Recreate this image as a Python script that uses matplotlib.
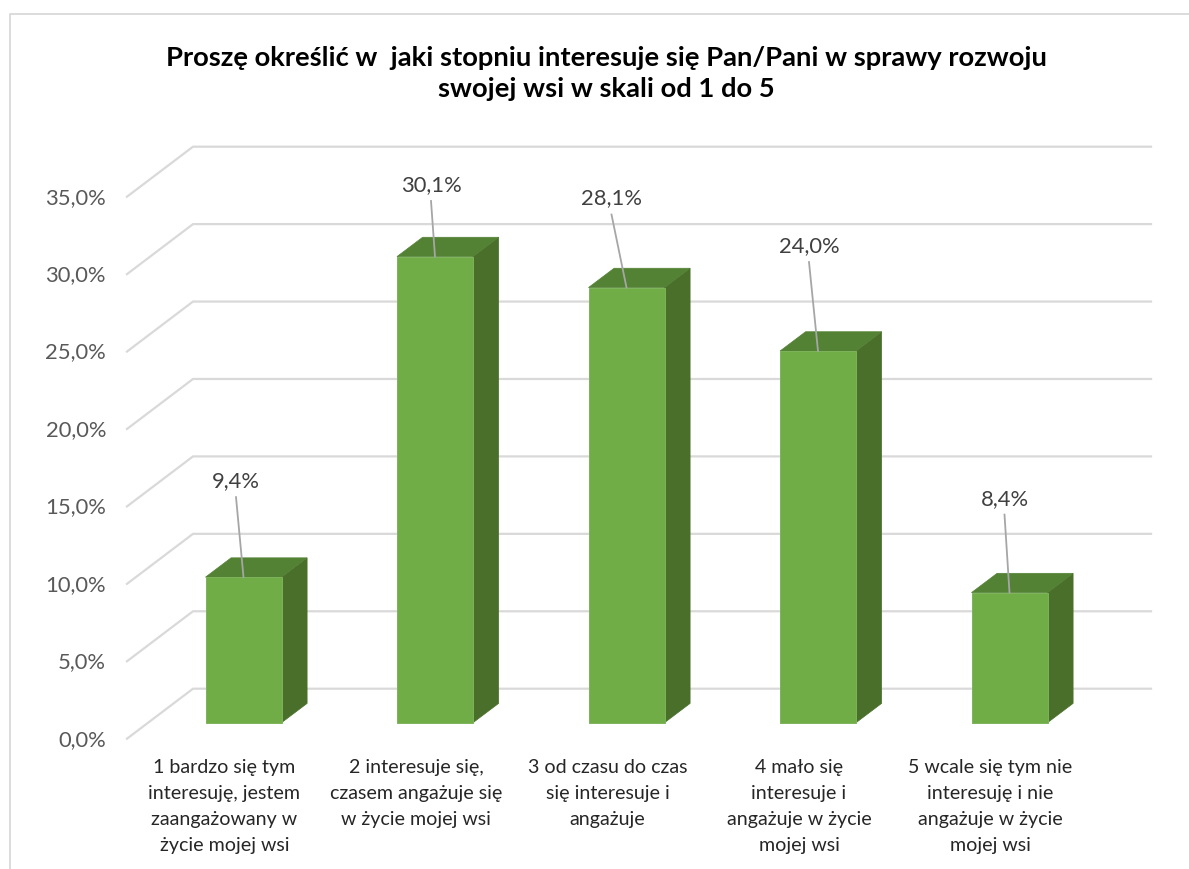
import matplotlib
matplotlib.use('Agg')
import matplotlib.pyplot as plt
from matplotlib.patches import Polygon, Rectangle
from matplotlib.lines import Line2D

plt.rcParams['font.family'] = ['Lato', 'DejaVu Sans']

title = "Proszę określić w  jaki stopniu interesuje się Pan/Pani w sprawy rozwoju\nswojej wsi w skali od 1 do 5"
categories = [
    "1 bardzo się tym\ninteresuję, jestem\nzaangażowany w\nżycie mojej wsi",
    "2 interesuje się,\nczasem angażuje się\nw życie mojej wsi",
    "3 od czasu do czas\nsię interesuje i\nangażuje",
    "4 mało się\ninteresuje i\nangażuje w życie\nmojej wsi",
    "5 wcale się tym nie\ninteresuję i nie\nangażuje w życie\nmojej wsi",
]
values = [9.4, 30.1, 28.1, 24.0, 8.4]
value_labels = ["9,4%", "30,1%", "28,1%", "24,0%", "8,4%"]
ticks = [0, 5, 10, 15, 20, 25, 30, 35]
tick_labels = ["0,0%", "5,0%", "10,0%", "15,0%", "20,0%", "25,0%", "30,0%", "35,0%"]

# where the labels sit relative to the top of each bar, in pixels
label_dx = [-7.5, -4, -15, -9, -5]
label_dy = [97, 72.6, 90, 106, 95]

W, H = 1189, 870
PX_X = 191.5      # pixels per category
PX_Y = 15.486     # pixels per percent
FLOOR = 689.7     # pixel row of 0 on the back wall

fig = plt.figure(figsize=(W / 100, H / 100), dpi=100)
fig.add_artist(Line2D([9.5 / W, 9.5 / W, 1], [0, 1 - 14.5 / H, 1 - 14.5 / H],
                      color='#d9d9d9', lw=1.3))

# axes is the back wall of the 3d chart
ax = fig.add_axes([193 / W, 1 - FLOOR / H, (1151 - 193) / W, 35 * PX_Y / H])
ax.set_xlim((193 - 243.5) / PX_X, (1151 - 243.5) / PX_X)
ax.set_ylim(0, 35)
ax.axis('off')

x0, x1 = ax.get_xlim()
wall_dx = 66 / PX_X
wall_dy = 50 / PX_Y
for t, lab in zip(ticks, tick_labels):
    ax.plot([x0 - wall_dx, x0, x1], [t - wall_dy, t, t], color='#d9d9d9', lw=1.6, clip_on=False,
            solid_joinstyle='miter', zorder=1)
    ax.text(x0 - 87 / PX_X, t - wall_dy, lab, ha='right', va='center', fontsize=15.8, color='#595959')

base = -(723.7 - FLOOR) / PX_Y
half = 38 / PX_X
dx = 25.6 / PX_X
dy = 19.3 / PX_Y
for i, v in enumerate(values):
    top = base + v
    ax.add_patch(Polygon([(i + half, base), (i + half + dx, base + dy), (i + half + dx, top + dy), (i + half, top)],
                         fc='#4a6f2b', ec='#4a6f2b', lw=0.5, zorder=3, clip_on=False))
    ax.add_patch(Polygon([(i - half, top), (i - half + dx, top + dy), (i + half + dx, top + dy), (i + half, top)],
                         fc='#548235', ec='#548235', lw=0.5, zorder=3, clip_on=False))
    ax.add_patch(Rectangle((i - half, base), 2 * half, v, fc='#70ad47', ec='#7cb35a', lw=0.7, zorder=4,
                           clip_on=False))
    lx = i + label_dx[i] / PX_X
    ly = top + label_dy[i] / PX_Y
    ax.plot([lx, i], [ly - 17 / PX_Y, top], color='#a6a6a6', lw=1.3, zorder=5, clip_on=False)
    ax.text(lx, ly, value_labels[i], ha='center', va='center', fontsize=15.8, color='#404040', zorder=6)
    ax.text(i - 19 / PX_X, base - 35 / PX_Y, categories[i], ha='center', va='top', fontsize=14.1,
            color='#262626', linespacing=1.65, zorder=6)

fig.text(606 / W, 1 - 73.5 / H, title, ha='center', va='center', fontsize=19.7, fontweight='bold', color='black',
         linespacing=1.31)

fig.savefig('out.png', dpi=100)
